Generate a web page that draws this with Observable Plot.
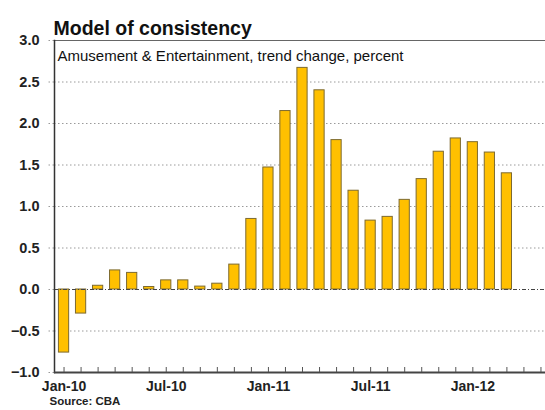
<!DOCTYPE html>
<html>
<head>
<meta charset="utf-8">
<script src="https://cdn.jsdelivr.net/npm/d3@7"></script>
<script src="https://cdn.jsdelivr.net/npm/@observablehq/plot@0.6"></script>
<style>
  html, body { margin: 0; padding: 0; background: #fff; }
  #chart svg { display: block; }
</style>
</head>
<body>
<div id="chart"></div>
<script>
const months = ["Jan-10","Feb-10","Mar-10","Apr-10","May-10","Jun-10","Jul-10","Aug-10","Sep-10","Oct-10","Nov-10","Dec-10",
                "Jan-11","Feb-11","Mar-11","Apr-11","May-11","Jun-11","Jul-11","Aug-11","Sep-11","Oct-11","Nov-11","Dec-11",
                "Jan-12","Feb-12","Mar-12","Apr-12","May-12"];
const values = [-0.76,-0.29,0.045,0.23,0.20,0.03,0.11,0.11,0.035,0.07,0.30,0.85,
                1.47,2.15,2.67,2.40,1.80,1.19,0.83,0.875,1.08,1.33,1.66,1.82,
                1.775,1.65,1.40];
const labeledMonths = ["Jan-10","Jul-10","Jan-11","Jul-11","Jan-12"];
const yTicks = [-1.0,-0.5,0.0,0.5,1.0,1.5,2.0,2.5,3.0];
const gridTicks = [-0.5,0.5,1.0,1.5,2.0,2.5];
const title = "Model of consistency";
const subtitle = "Amusement & Entertainment, trend change, percent";
const source = "Source: CBA";

const data = values.map((v, i) => ({month: months[i], value: v}));
const font = "'Liberation Sans', Arial, Helvetica, sans-serif";

const chart = Plot.plot({
  width: 545,
  height: 410,
  marginTop: 40,
  marginBottom: 38,
  marginLeft: 54,
  marginRight: 0,
  style: {fontFamily: font, background: "#fff"},
  x: {type: "band", domain: months, paddingInner: 0.4, paddingOuter: 0.26, round: false, range: [54, 550], axis: null, label: null},
  y: {domain: [-1, 3], axis: null, label: null},
  marks: [
    Plot.ruleY(gridTicks, {stroke: "#9a9a9a", strokeWidth: 1, strokeDasharray: "1.5,2.5"}),
    Plot.axisY(yTicks, {
      tickSize: 6, tickPadding: 9, tickFormat: d3.format(".1f"), label: null,
      stroke: "#9a9a9a", strokeDasharray: "1.5,2.5",
      fontSize: 14.5, fontWeight: "bold", fill: "#222"
    }),
    Plot.barY(data, {x: "month", y: "value", fill: "#FFC000", stroke: "#7d6a30", strokeWidth: 1}),
    Plot.ruleY([0], {stroke: "#444", strokeWidth: 1, strokeDasharray: "4,2,1,2"}),
    Plot.ruleY([3], {stroke: "#666", strokeWidth: 1}),
    Plot.frame({anchor: "left", stroke: "#333", strokeWidth: 1.5}),
    Plot.ruleY([-1], {stroke: "#444", strokeWidth: 2}),
    Plot.axisX(months, {tickSize: -5, tickFormat: () => "", stroke: "#555", label: null}),
    Plot.axisX(labeledMonths, {tickSize: 0, tickPadding: 9, fontSize: 14, fontWeight: "bold", fill: "#222", label: null}),
    Plot.text([subtitle], {frameAnchor: "top-left", dx: 3, dy: 10, textAnchor: "start", fontSize: 15, fill: "#111"}),
    Plot.text([title], {frameAnchor: "top-left", dx: -1, dy: -19, textAnchor: "start", fontSize: 19.5, fontWeight: "bold", fill: "#111"}),
    Plot.text([source], {frameAnchor: "bottom-left", dx: -5, dy: 32, textAnchor: "start", fontSize: 11.5, fontWeight: "bold", fill: "#222"})
  ]
});
document.getElementById("chart").appendChild(chart);
</script>
</body>
</html>
